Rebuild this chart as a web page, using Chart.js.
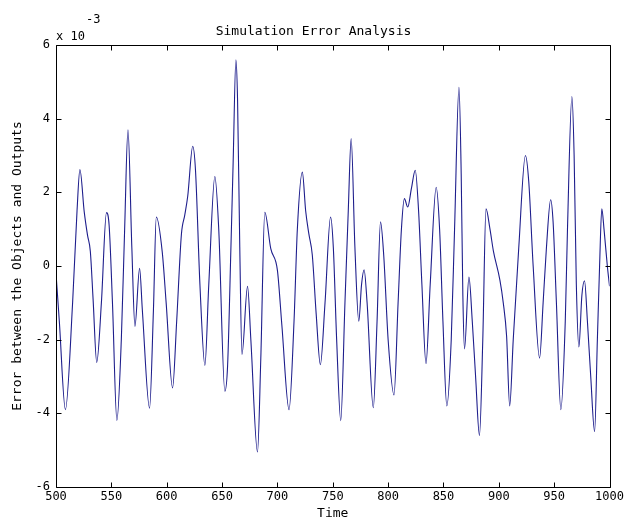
<!DOCTYPE html>
<html>
<head>
<meta charset="utf-8">
<script src="https://cdn.jsdelivr.net/npm/chart.js@4/dist/chart.umd.min.js"></script>
<style>
  html, body { margin: 0; padding: 0; background: #ffffff; }
  #wrap { width: 627px; height: 523px; }
</style>
</head>
<body>
<div id="wrap"><canvas id="c" width="627" height="523"></canvas></div>
<script>
// ---- data (error values in units of 1e-3) ----
const timePoints = [
  500, 503, 508.5, 515, 519, 521.6, 525.5, 528.5, 531, 533.5, 536.8, 541, 545.6, 548, 551, 555,
  559, 562, 565, 568.5, 571.3, 575.5, 578, 584.5, 588, 590.6, 596, 599.5, 605.3, 609, 613.3,
  616.3, 619, 623.5, 626, 630, 634.5, 638, 643.5, 647, 652.5, 655, 658, 660, 662.5,
  664, 666, 668, 673, 676, 682, 685, 688.6, 694, 700, 704, 710.5, 715, 718, 722.5,
  725.5, 728.4, 731.5, 735, 738.8, 743, 748, 750.5, 753.5, 757.2, 761, 764, 766.6, 770, 773.5, 776,
  778.3, 781, 786.6, 790, 793.1, 796, 800, 805.3, 809, 812, 814.7, 817.7, 821, 824.5, 827.5,
  830.5, 834.2, 838, 843.4, 846.5, 849.5, 853, 857, 860, 864, 866, 867.5, 869, 873, 876,
  879, 882.5, 885.5, 888.4, 892, 895, 901, 904, 907, 909.8, 913, 918, 924, 927, 931, 936.8,
  940, 943, 946.8, 949, 952, 956, 960, 962, 966, 968, 970, 972.3, 975, 977.4, 980,
  983, 986.5, 989, 991, 993, 995, 998, 1000
];
const errorMilli = [
  -0.2, -1.5, -3.9, -1.0, 1.5, 2.62, 1.47, 0.83, 0.4, -0.9, -2.62, -1.0, 1.45, 1.1, -1.0, -4.19,
  -2.0, 1.0, 3.7, 0.5, -1.64, -0.06, -1.2, -3.86, -1.2, 1.33, 0.37, -1.0, -3.31, -1.5, 0.87,
  1.38, 1.9, 3.25, 2.6, -0.5, -2.7, -0.5, 2.43, 1.0, -3.4, -2.7, 0.5, 2.8, 5.6,
  4.5, 0.5, -2.4, -0.55, -2.0, -5.05, -2.5, 1.46, 0.47, -0.12, -1.6, -3.9, -1.5, 1.0, 2.55,
  1.5, 0.87, 0.3, -1.3, -2.68, -1.0, 1.33, 0.5, -2.0, -4.2, -1.0, 1.5, 3.46, 0.5, -1.5, -0.5,
  -0.1, -1.0, -3.85, -1.5, 1.2, 0.3, -2.0, -3.5, -1.0, 1.0, 1.83, 1.6, 2.1, 2.6, 1.5,
  -0.5, -2.65, -0.5, 2.14, 1.0, -1.5, -3.8, -2.0, 1.0, 4.85, 2.5, -0.8, -2.25, -0.3, -1.5,
  -3.0, -4.6, -2.0, 1.55, 1.0, 0.42, -0.39, -1.0, -1.9, -3.8, -2.0, 0.5, 3.0, 2.3, 0.0, -2.5,
  -1.0, 0.5, 1.8, 1.2, -1.0, -3.9, -1.5, 1.0, 4.6, 3.0, -0.5, -2.2, -0.8, -0.4, -1.5,
  -3.0, -4.5, -2.0, 0.0, 1.55, 1.0, 0.0, -0.55
];
const xTickValues = [500, 550, 600, 650, 700, 750, 800, 850, 900, 950, 1000];
const yTickValues = [-6, -4, -2, 0, 2, 4, 6];
const titleText = 'Simulation Error Analysis';
const xLabelText = 'Time';
const yLabelText = 'Error between the Objects and Outputs';
const exponentBase = 'x 10';
const exponentPower = '-3';

const FONT = '"DejaVu Sans Mono", "Liberation Mono", monospace';

const points = timePoints.map((t, i) => ({ x: t, y: errorMilli[i] }));

const frame = {
  id: 'matlabFrame',
  afterDraw(chart) {
    const { ctx, chartArea: a, scales } = chart;
    const xs = scales.x, ys = scales.y;
    const L = Math.round(a.left) + 0.5, R = Math.round(a.right) + 0.5;
    const T = Math.round(a.top) + 0.5, B = Math.round(a.bottom) + 0.5;
    ctx.save();
    ctx.strokeStyle = '#000000';
    ctx.lineWidth = 1;
    ctx.beginPath();
    ctx.rect(L, T, R - L, B - T);
    const tl = 5;
    xTickValues.forEach(v => {
      const px = Math.round(xs.getPixelForValue(v)) + 0.5;
      ctx.moveTo(px, B); ctx.lineTo(px, B - tl);
      ctx.moveTo(px, T); ctx.lineTo(px, T + tl);
    });
    yTickValues.forEach(v => {
      const py = Math.round(ys.getPixelForValue(v)) + 0.5;
      ctx.moveTo(L, py); ctx.lineTo(L + tl, py);
      ctx.moveTo(R, py); ctx.lineTo(R - tl, py);
    });
    ctx.stroke();
    // exponent label
    ctx.fillStyle = '#000000';
    ctx.textBaseline = 'alphabetic';
    ctx.textAlign = 'left';
    ctx.font = '12px ' + FONT;
    ctx.fillText(exponentBase, a.left, a.top - 5);
    ctx.fillText(exponentPower, a.left + 30, a.top - 22);
    ctx.restore();
  }
};

new Chart(document.getElementById('c'), {
  type: 'line',
  data: {
    datasets: [{
      data: points,
      borderColor: '#1e1e8c',
      borderWidth: 1.1,
      pointRadius: 0,
      fill: false,
      cubicInterpolationMode: 'monotone'
    }]
  },
  options: {
    responsive: false,
    animation: false,
    devicePixelRatio: 1,
    layout: { padding: { left: 0, right: 0, top: 0, bottom: 0 } },
    plugins: {
      legend: { display: false },
      tooltip: { enabled: false },
      title: {
        display: true,
        text: titleText,
        color: '#000000',
        font: { family: FONT, size: 13, weight: 'normal' },
        padding: { top: 24, bottom: 5.4 }
      }
    },
    scales: {
      x: {
        type: 'linear',
        min: 500, max: 1000,
        afterBuildTicks: s => { s.ticks = xTickValues.map(v => ({ value: v })); },
        afterFit: s => { s.height = 36; },
        grid: { display: false, drawTicks: false },
        border: { display: false },
        ticks: {
          color: '#000000', font: { family: FONT, size: 12 }, padding: 3, maxRotation: 0, autoSkip: false,
          callback: v => String(v)
        },
        title: { display: true, text: xLabelText, color: '#000000', font: { family: FONT, size: 13 }, padding: { top: 0, bottom: 2 } }
      },
      y: {
        type: 'linear',
        min: -6, max: 6,
        afterBuildTicks: s => { s.ticks = yTickValues.map(v => ({ value: v })); },
        afterFit: s => { s.width = 56; },
        grid: { display: false, drawTicks: false },
        border: { display: false },
        ticks: { color: '#000000', font: { family: FONT, size: 12 }, padding: 6, autoSkip: false, callback: v => String(v) },
        title: { display: true, text: yLabelText, color: '#000000', font: { family: FONT, size: 13 }, padding: { top: 10, bottom: 0 } }
      }
    }
  },
  plugins: [frame]
});
</script>
</body>
</html>
